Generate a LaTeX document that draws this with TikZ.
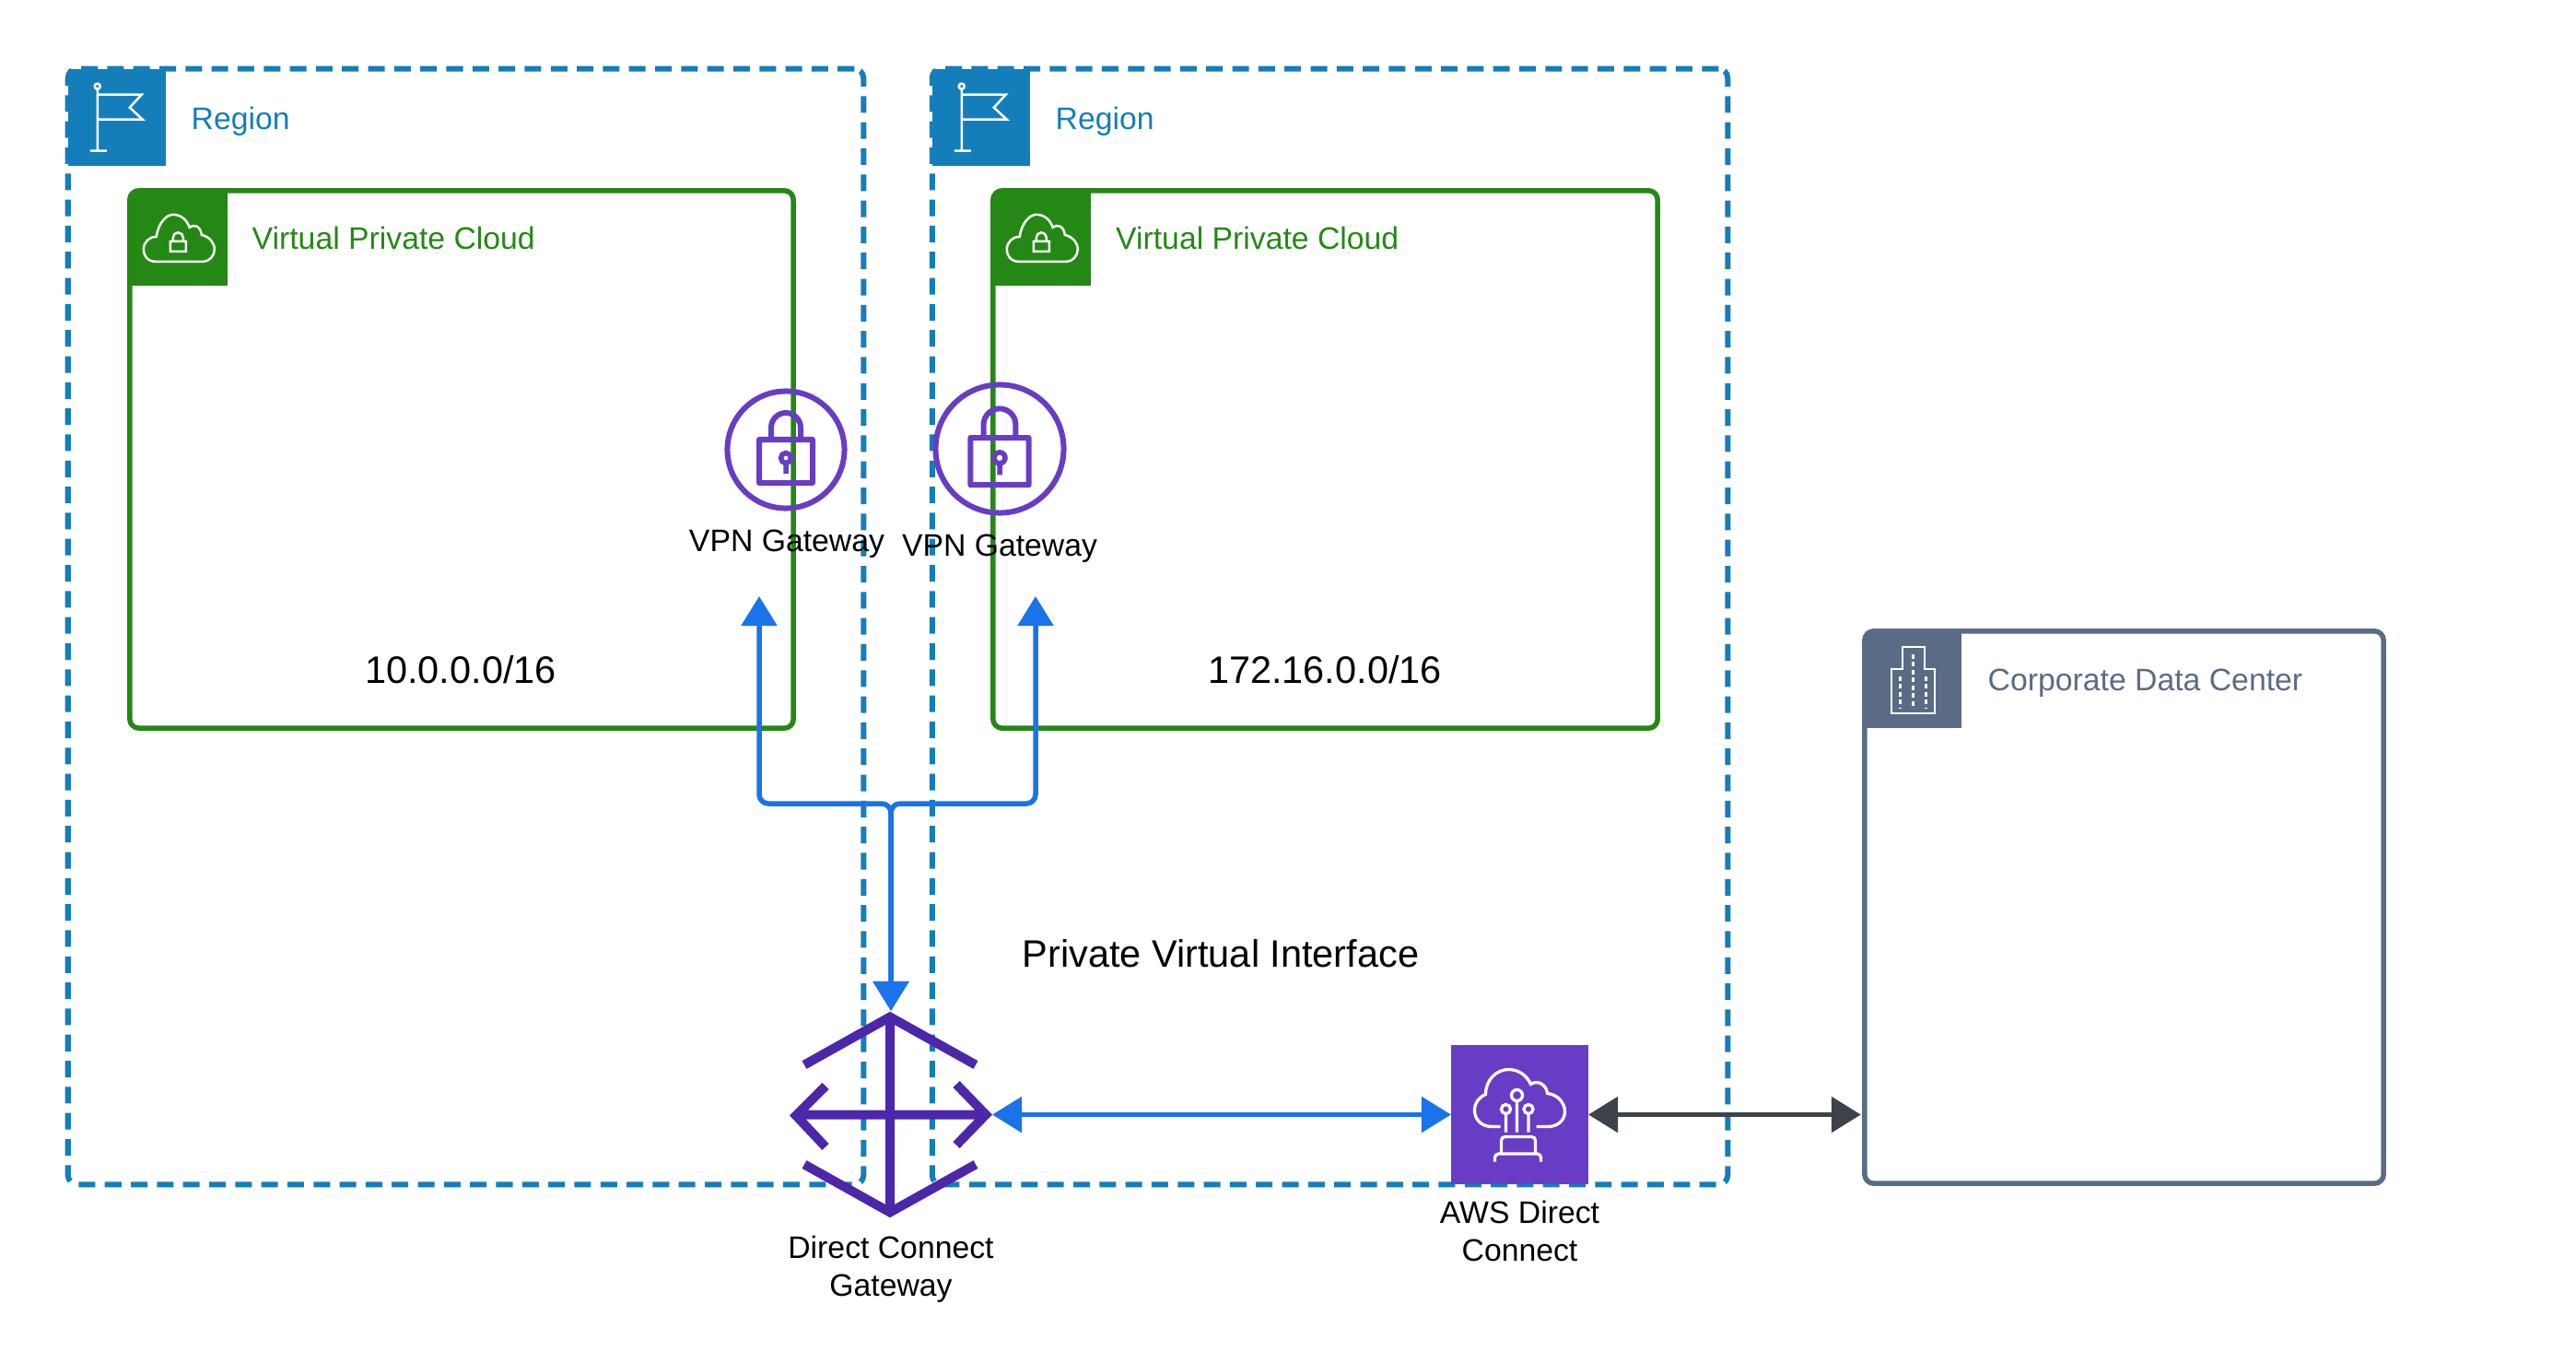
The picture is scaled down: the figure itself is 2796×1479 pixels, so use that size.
\documentclass[tikz,border=0pt]{standalone}
\usepackage{fontspec}
\setmainfont{Liberation Sans}
\usetikzlibrary{arrows.meta,positioning}
\definecolor{regionblue}{HTML}{147EBA}
\definecolor{vpcgreen}{HTML}{248814}
\definecolor{corpslate}{HTML}{5A6B86}
\definecolor{awspurple}{HTML}{693CC5}
\definecolor{gwpurple}{HTML}{4D27AA}
\definecolor{linkblue}{HTML}{1A73E8}
\definecolor{linkdark}{HTML}{3C434B}
\tikzset{
  regionbox/.style={draw=regionblue, line width=.6mm, rounded corners=1mm, dash pattern=on 1.8mm off 1.03mm, outer sep=0pt},
  vpcbox/.style={draw=vpcgreen, line width=.55mm, rounded corners=1mm, outer sep=0pt},
  corpbox/.style={draw=corpslate, line width=.55mm, rounded corners=1mm, outer sep=0pt},
  lbl/.style={inner sep=0pt, font=\fontsize{9.6}{11.7}\selectfont},
  biglbl/.style={inner sep=0pt, font=\fontsize{11.8}{14}\selectfont},
  vpnring/.style={draw=awspurple, circle, line width=.6mm},
  link/.style={{Triangle[length=3.2mm,width=3.8mm]}-{Triangle[length=3.2mm,width=3.8mm]}, line width=.55mm, draw=linkblue, color=linkblue},
  darklink/.style={link, draw=linkdark, color=linkdark},
  regionicon/.pic={
    \fill[regionblue] (0,0) rectangle (106,105);
    \draw[white, line width=.25mm] (32,22) -- (32,89) (24,89) -- (42,89)
      (32,28) -- (80,28) -- (67,42) -- (81,55) -- (32,55);
    \draw[white, line width=.25mm] (32,19) circle (3);
  },
  vpcicon/.pic={
    \fill[vpcgreen] (0,103) [rounded corners=1mm] -- (0,0) [sharp corners] -- (106,0) -- (106,103) -- cycle;
    \draw[white, line width=.25mm] (28,77) .. controls (19,77) and (15,70) .. (15,64)
      .. controls (15,56) and (21,50) .. (29,50) .. controls (31,35) and (40,26) .. (47,26)
      .. controls (56,26) and (62,32) .. (65,40) .. controls (69,36) and (77,38) .. (78,48)
      .. controls (86,50) and (92,56) .. (92,64) .. controls (92,71) and (86,77) .. (80,77) -- cycle;
    \draw[white, line width=.25mm] (44,55) rectangle (61,66)
      (47,55) -- (47,51) arc[start angle=180, end angle=360, radius=5.5] -- (58,55);
  },
  corpicon/.pic={
    \fill[corpslate] (0,105) [rounded corners=1mm] -- (0,0) [sharp corners] -- (105,0) -- (105,105) -- cycle;
    \draw[white, line width=.25mm] (29,89) -- (29,41) -- (41,41) -- (41,17) -- (65,17) -- (65,41) -- (76,41) -- (76,89) -- cycle;
    \draw[white, line width=.3mm, dash pattern=on .5mm off .35mm] (53,25) -- (53,84) (39,49) -- (39,84) (67,49) -- (67,84);
  },
  lockicon/.pic={
    \draw[awspurple, line width=.6mm, line join=round] (-29,-11) rectangle (29,36)
      (-16,-11) -- (-16,-24) arc[start angle=180, end angle=360, radius=16] -- (16,-11);
    \draw[awspurple, line width=.55mm] (0,9) circle (5.5) (0,14) -- (0,26);
  },
  dcxicon/.pic={
    \draw[white, line width=.33mm] (-21,13) -- (-30,13) .. controls (-42,13) and (-49,5) .. (-49,-5)
      .. controls (-49,-13) and (-44,-19) .. (-37,-22) .. controls (-37,-38) and (-25,-49) .. (-12,-49)
      .. controls (-1,-49) and (8,-42) .. (12,-33) .. controls (19,-38) and (29,-33) .. (30,-23)
      .. controls (41,-22) and (49,-13) .. (49,-3) .. controls (49,6) and (41,13) .. (31,13) -- (18,13);
    \draw[white, line width=.33mm] (-3,-21) circle (6) (-15,-6) circle (5) (9.5,-6) circle (5)
      (-3,-15) -- (-3,19) (-15,-1) -- (-15,19) (9.5,-1) -- (9.5,19);
    \draw[white, line width=.33mm, rounded corners=.4mm] (-27,51) -- (-27,42.5) -- (23,42.5) -- (23,51)
      (-20,42.5) -- (-20,24) -- (17,24) -- (17,42.5);
  },
  dcgwicon/.pic={
    \draw[gwpurple, line width=1mm] (-94,-54) -- (-1,-106) -- (92,-54) (-94,54) -- (-1,106) -- (92,54)
      (-71,-31) -- (-103,1) -- (-71,35) (71,-33) -- (103,0) -- (71,33)
      (-1,-106) -- (-1,106) (-102,0) -- (102,0);
  }
}

\begin{document}
\begin{tikzpicture}[x=.01cm, y=-.01cm]
  \useasboundingbox (0,0) rectangle (2796,1479);
  % regions and vpcs
  \node[regionbox, minimum width=8.63cm, minimum height=12.1cm] (reg1) at (505.5,680) {};
  \node[regionbox, minimum width=8.63cm, minimum height=12.1cm] (reg2) at (1443.5,680) {};
  \node[vpcbox, minimum width=7.2cm, minimum height=5.83cm] (vpc1) at (501,498.5) {};
  \node[vpcbox, minimum width=7.21cm, minimum height=5.83cm] (vpc2) at (1438.5,498.5) {};
  \node[corpbox, minimum width=5.63cm, minimum height=5.99cm] (corp) at (2305.5,984.5) {};
  \pic at (reg1.north west) {regionicon};
  \pic at (reg2.north west) {regionicon};
  \pic at (vpc1.north west) {vpcicon};
  \pic at (vpc2.north west) {vpcicon};
  \pic at (corp.north west) {corpicon};
  \node[lbl, anchor=base west, text=regionblue] (reg1lbl) at (207,141) {Region};
  \node[lbl, anchor=base west, text=regionblue] (reg2lbl) at (1145,141) {Region};
  \node[lbl, anchor=base west, text=vpcgreen] (vpc1lbl) at (273,271) {Virtual Private Cloud};
  \node[lbl, anchor=base west, text=vpcgreen] (vpc2lbl) at (1210.5,271) {Virtual Private Cloud};
  \node[lbl, anchor=base west, text=corpslate] (corplbl) at (2157,749) {Corporate Data Center};
  \node[biglbl, anchor=base] (cidr1) at (500,741) {10.0.0.0/16};
  \node[biglbl, anchor=base] (cidr2) at (1438,741) {172.16.0.0/16};
  \node[biglbl, anchor=base] (pvif) at (1325,1049) {Private Virtual Interface};
  % vpn gateways
  \node[vpnring, minimum size=1.27cm] (vpn1) at (853,488) {};
  \node[vpnring, minimum size=1.39cm] (vpn2) at (1085,487) {};
  \pic at (vpn1) {lockicon};
  \pic[scale=1.09] at (vpn2) {lockicon};
  \node[lbl, below=.2cm of vpn1, xshift=.01cm] (vpn1lbl) {VPN Gateway};
  \node[lbl, below=.2cm of vpn2] (vpn2lbl) {VPN Gateway};
  % direct connect gateway and aws direct connect
  \node[minimum width=2.2cm, minimum height=2.25cm, inner sep=0pt, outer sep=0pt] (dcgw) at (967,1209.5) {};
  \pic at (dcgw) {dcgwicon};
  \node[lbl, align=center, below=.18cm of dcgw] (dcgwlbl) {Direct Connect\\Gateway};
  \node[fill=awspurple, minimum width=1.49cm, minimum height=1.51cm, inner sep=0pt, outer sep=0pt] (dcx) at (1649.5,1209.5) {};
  \pic at (dcx) {dcxicon};
  \node[lbl, align=center, below=.175cm of dcx] (dcxlbl) {AWS Direct\\Connect};
  % connectors
  \coordinate (vpn1in) at (824,647);
  \coordinate (vpn2in) at (1124,647);
  \coordinate (jct) at (967,872);
  \draw[link, rounded corners=1mm] (vpn1in) |- (jct) -- (dcgw.north);
  \draw[link, rounded corners=1mm] (vpn2in) |- (jct) -- (dcgw.north);
  \draw[link] (dcgw.east) -- (dcx.west);
  \draw[darklink, shorten >=.4mm] (dcx.east) -- (dcx.east -| corp.west);
\end{tikzpicture}
\end{document}
